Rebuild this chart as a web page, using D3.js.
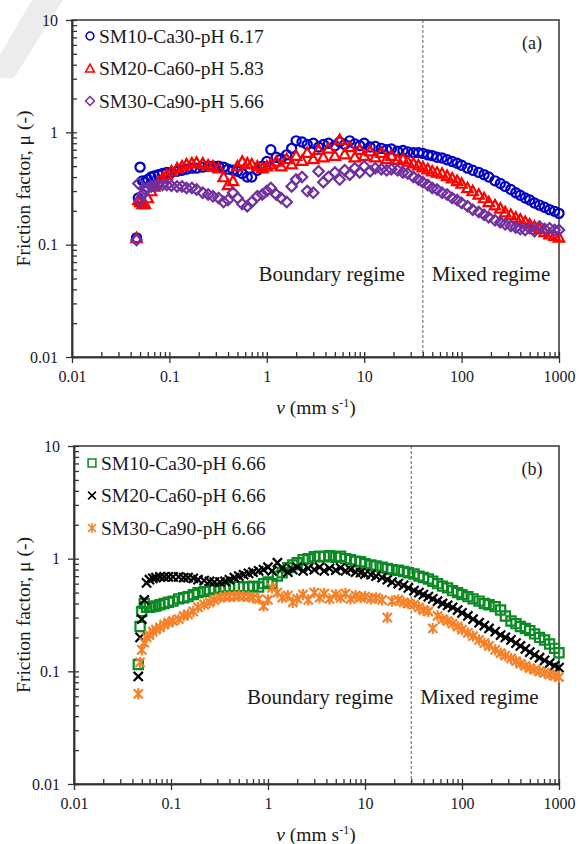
<!DOCTYPE html>
<html>
<head>
<meta charset="utf-8">
<script src="https://cdn.jsdelivr.net/npm/d3@7"></script>
<style>
  body { margin: 0; background: #fff; }
  svg { display: block; }
</style>
</head>
<body>
<div id="chart"></div>
<script>
// sliding speed (mm/s), shared by all six series
const speed = [
  0.046, 0.048, 0.05, 0.053, 0.056, 0.06, 0.065, 0.07, 0.077, 0.085,
  0.094, 0.105, 0.12, 0.135, 0.15, 0.17, 0.19, 0.22, 0.25, 0.28,
  0.32, 0.36, 0.4, 0.45, 0.5, 0.56, 0.63, 0.7, 0.8, 0.9,
  1.0, 1.1, 1.25, 1.4, 1.6, 1.8, 2.0, 2.3, 2.6, 3.0,
  3.4, 3.8, 4.3, 5.0, 5.6, 6.3, 7.1, 8.0, 9.0, 10,
  11.5, 13, 15, 17, 19, 22, 25, 28, 32, 36,
  40, 45, 50, 56, 63, 71, 80, 90, 100, 115,
  130, 150, 170, 190, 220, 250, 280, 320, 360, 400,
  450, 500, 560, 630, 710, 800, 900, 1000
];

// panel (a) friction factors
const muSM10a = [
  0.115, 0.26, 0.49, 0.37, 0.36, 0.38, 0.40, 0.41, 0.42, 0.43,
  0.44, 0.44, 0.45, 0.46, 0.47, 0.48, 0.48, 0.49, 0.50, 0.50,
  0.50, 0.49, 0.47, 0.46, 0.45, 0.43, 0.40, 0.40, 0.46, 0.50,
  0.55, 0.70, 0.60, 0.58, 0.63, 0.72, 0.84, 0.82, 0.78, 0.80,
  0.74, 0.78, 0.80, 0.76, 0.82, 0.78, 0.84, 0.79, 0.76, 0.80,
  0.74, 0.75, 0.72, 0.70, 0.71, 0.68, 0.69, 0.67, 0.66, 0.66,
  0.65, 0.63, 0.62, 0.60, 0.59, 0.57, 0.55, 0.53, 0.51, 0.48,
  0.46, 0.44, 0.42, 0.40, 0.37, 0.35, 0.33, 0.31, 0.29, 0.275,
  0.26, 0.25, 0.235, 0.225, 0.215, 0.205, 0.198, 0.19
];
const muSM20a = [
  0.115, 0.25, 0.24, 0.23, 0.23, 0.26, 0.30, 0.33, 0.36, 0.39,
  0.42, 0.45, 0.48, 0.50, 0.52, 0.53, 0.54, 0.53, 0.51, 0.50,
  0.48, 0.40, 0.34, 0.37, 0.50, 0.55, 0.53, 0.52, 0.50, 0.48,
  0.50, 0.52, 0.55, 0.50, 0.58, 0.52, 0.62, 0.56, 0.66, 0.58,
  0.70, 0.60, 0.72, 0.62, 0.86, 0.64, 0.74, 0.60, 0.70, 0.62,
  0.68, 0.60, 0.66, 0.58, 0.62, 0.57, 0.58, 0.55, 0.53, 0.51,
  0.49, 0.47, 0.45, 0.44, 0.43, 0.41, 0.39, 0.37, 0.35, 0.32,
  0.30, 0.28, 0.26, 0.24, 0.225, 0.21, 0.195, 0.185, 0.175, 0.168,
  0.16, 0.152, 0.145, 0.138, 0.13, 0.124, 0.12, 0.116
];
const muSM30a = [
  0.11, 0.35, 0.25, 0.28, 0.31, 0.32, 0.33, 0.335, 0.34, 0.34,
  0.34, 0.335, 0.33, 0.33, 0.32, 0.32, 0.31, 0.29, 0.28, 0.27,
  0.26, 0.24, 0.25, 0.29, 0.26, 0.23, 0.22, 0.24, 0.27, 0.28,
  0.30, 0.32, 0.28, 0.26, 0.24, 0.33, 0.38, 0.40, 0.30, 0.29,
  0.45, 0.36, 0.40, 0.44, 0.38, 0.46, 0.42, 0.48, 0.44, 0.50,
  0.45, 0.48, 0.47, 0.46, 0.47, 0.46, 0.44, 0.43, 0.40, 0.38,
  0.36, 0.34, 0.32, 0.31, 0.29, 0.28, 0.26, 0.25, 0.235, 0.22,
  0.205, 0.195, 0.185, 0.175, 0.165, 0.158, 0.152, 0.147, 0.142, 0.138,
  0.135, 0.14, 0.132, 0.145, 0.138, 0.14, 0.135, 0.135
];

// panel (b) friction factors
const muSM10b = [
  0.115, 0.25, 0.34, 0.40, 0.37, 0.37, 0.375, 0.38, 0.39, 0.40,
  0.41, 0.42, 0.44, 0.45, 0.46, 0.48, 0.50, 0.51, 0.53, 0.54,
  0.55, 0.56, 0.56, 0.565, 0.565, 0.56, 0.56, 0.57, 0.56, 0.60,
  0.62, 0.60, 0.70, 0.75, 0.83, 0.88, 0.92, 0.98, 1.0, 1.04,
  1.05, 1.04, 1.06, 1.03, 1.05, 1.0, 0.98, 0.95, 0.94, 0.90,
  0.88, 0.86, 0.84, 0.82, 0.80, 0.79, 0.77, 0.75, 0.73, 0.70,
  0.68, 0.66, 0.63, 0.60, 0.57, 0.55, 0.52, 0.50, 0.48, 0.46,
  0.44, 0.42, 0.40, 0.39, 0.375, 0.35, 0.31, 0.28, 0.265, 0.25,
  0.24, 0.23, 0.215, 0.20, 0.19, 0.175, 0.16, 0.146
];
const muSM20b = [
  0.09, 0.20, 0.29, 0.43, 0.61, 0.65, 0.67, 0.68, 0.69, 0.69,
  0.69, 0.69, 0.69, 0.68, 0.68, 0.67, 0.65, 0.64, 0.63, 0.62,
  0.62, 0.63, 0.65, 0.68, 0.70, 0.72, 0.74, 0.76, 0.78, 0.80,
  0.84, 0.78, 0.92, 0.82, 0.76, 0.80, 0.84, 0.78, 0.82, 0.80,
  0.84, 0.78, 0.82, 0.79, 0.83, 0.78, 0.80, 0.76, 0.75, 0.73,
  0.72, 0.70, 0.68, 0.65, 0.62, 0.60, 0.58, 0.55, 0.52, 0.50,
  0.48, 0.46, 0.44, 0.42, 0.40, 0.385, 0.37, 0.35, 0.33, 0.31,
  0.29, 0.27, 0.255, 0.24, 0.225, 0.21, 0.20, 0.19, 0.178, 0.168,
  0.158, 0.148, 0.14, 0.132, 0.125, 0.118, 0.112, 0.108
];
const muSM30b = [
  0.063, 0.12, 0.155, 0.18, 0.20, 0.21, 0.225, 0.235, 0.245, 0.26,
  0.27, 0.28, 0.29, 0.31, 0.32, 0.34, 0.37, 0.39, 0.41, 0.43,
  0.45, 0.46, 0.46, 0.46, 0.47, 0.46, 0.46, 0.45, 0.44, 0.38,
  0.43, 0.55, 0.50, 0.45, 0.47, 0.41, 0.44, 0.48, 0.43, 0.50,
  0.45, 0.49, 0.44, 0.48, 0.45, 0.49, 0.44, 0.47, 0.45, 0.46,
  0.44, 0.45, 0.43, 0.30, 0.42, 0.43, 0.41, 0.40, 0.39, 0.37,
  0.35, 0.34, 0.24, 0.31, 0.29, 0.28, 0.265, 0.25, 0.235, 0.22,
  0.205, 0.19, 0.178, 0.168, 0.155, 0.145, 0.138, 0.13, 0.123, 0.117,
  0.112, 0.107, 0.103, 0.10, 0.097, 0.094, 0.091, 0.089
];

const namesA = ["SM10-Ca30-pH 6.17", "SM20-Ca60-pH 5.83", "SM30-Ca90-pH 5.66"];
const namesB = ["SM10-Ca30-pH 6.66", "SM20-Ca60-pH 6.66", "SM30-Ca90-pH 6.66"];
const xTicks = [0.01, 0.1, 1, 10, 100, 1000];
const yTicks = [0.01, 0.1, 1, 10];
const regimeNames = ["Boundary regime", "Mixed regime"];
const transitionA = 40;
const transitionB = 30;

const FONT = "Liberation Serif, Times New Roman, serif";

// marker paths, centred on 0,0
const shapes = {
  circle: "M4.6,0A4.6,4.6 0 1,1 -4.6,0A4.6,4.6 0 1,1 4.6,0Z",
  triangle: "M0,-5.2L5.2,4.2L-5.2,4.2Z",
  diamond: "M0,-5.2L5.2,0L0,5.2L-5.2,0Z",
  square: "M-4.6,-4.6h9.2v9.2h-9.2Z",
  cross: "M-4.6,-4.6L4.6,4.6M-4.6,4.6L4.6,-4.6",
  star: "M-4.6,-4.6L4.6,4.6M-4.6,4.6L4.6,-4.6M0,-5.6L0,5.6"
};

const svg = d3.select("#chart").append("svg")
  .attr("width", 579)
  .attr("height", 844)
  .attr("font-family", FONT);

// faint grey stripe in the corner of the scan
svg.append("path")
  .attr("d", "M32,0L63,0L14,78L0,78L0,55Z")
  .attr("fill", "#ececec");

function minorValues(lo, hi) {
  var out = [];
  for (var e = Math.log10(lo); e < Math.log10(hi); e++) {
    for (var k = 1; k <= 9; k++) out.push(k * Math.pow(10, e));
  }
  out.push(hi);
  return out;
}

function fmt(d) {
  return d >= 1 ? String(d) : String(+d.toPrecision(1));
}

function drawPanel(p) {
  var x = d3.scaleLog().domain([0.01, 1000]).range([p.left, p.right]);
  var y = d3.scaleLog().domain([0.01, 10]).range([p.bottom, p.top]);
  var g = svg.append("g");

  // dashed regime boundary
  g.append("line")
    .attr("x1", x(p.transition)).attr("x2", x(p.transition))
    .attr("y1", p.top).attr("y2", p.bottom)
    .attr("stroke", "#7a7a7a")
    .attr("stroke-width", 1.2)
    .attr("stroke-dasharray", "3,2");

  // frame
  g.append("rect")
    .attr("x", p.left).attr("y", p.top)
    .attr("width", p.right - p.left).attr("height", p.bottom - p.top)
    .attr("fill", "none")
    .attr("stroke", "#333")
    .attr("stroke-width", 1.5);

  // axes: labelled majors outside, all ticks inside
  g.append("g")
    .attr("transform", "translate(0," + p.bottom + ")")
    .call(d3.axisBottom(x).tickValues(xTicks).tickSize(6).tickSizeOuter(0)
      .tickPadding(8).tickFormat(fmt));
  g.append("g")
    .attr("transform", "translate(0," + p.bottom + ")")
    .call(d3.axisBottom(x).tickValues(minorValues(0.01, 1000)).tickSize(-5)
      .tickSizeOuter(0).tickFormat(""));

  g.append("g")
    .attr("transform", "translate(" + p.left + ",0)")
    .call(d3.axisLeft(y).tickValues(yTicks).tickSize(6).tickSizeOuter(0)
      .tickPadding(8).tickFormat(fmt));
  g.append("g")
    .attr("transform", "translate(" + p.left + ",0)")
    .call(d3.axisLeft(y).tickValues(minorValues(0.01, 10)).tickSize(-5)
      .tickSizeOuter(0).tickFormat(""));

  g.selectAll(".domain").attr("stroke", "#333").attr("stroke-width", 1.5);
  g.selectAll(".tick line").attr("stroke", "#333").attr("stroke-width", 1.3);
  g.selectAll("g").attr("font-family", FONT).attr("font-size", 16);
  g.selectAll(".tick text").attr("fill", "#1a1a1a");

  // series
  p.series.forEach(function (s) {
    var pts = speed.map(function (v, i) { return {v: v, mu: s.values[i]}; });
    g.append("g").selectAll("path")
      .data(pts)
      .enter().append("path")
      .attr("transform", function (d) { return "translate(" + x(d.v) + "," + y(d.mu) + ")"; })
      .attr("d", shapes[s.shape])
      .attr("fill", "none")
      .attr("stroke", s.color)
      .attr("stroke-width", 2.2);
  });

  // legend
  p.series.forEach(function (s, i) {
    var ly = p.legendTop + i * 32.5;
    g.append("path")
      .attr("transform", "translate(" + (p.left + 18) + "," + ly + ") scale(0.85)")
      .attr("d", shapes[s.shape])
      .attr("fill", "none")
      .attr("stroke", s.color)
      .attr("stroke-width", 1.8);
    g.append("text")
      .attr("x", p.left + 27)
      .attr("y", ly + 6.5)
      .attr("font-size", 19.5)
      .attr("fill", "#1a1a1a")
      .text(s.name);
  });

  // panel tag
  g.append("text")
    .attr("x", p.right - 27).attr("y", p.top + 29)
    .attr("text-anchor", "middle")
    .attr("font-size", 18)
    .attr("fill", "#1a1a1a")
    .text(p.tag);

  // regime labels
  g.append("text")
    .attr("x", x(p.transition) - 18).attr("y", p.regimeY)
    .attr("text-anchor", "end")
    .attr("font-size", 21)
    .attr("fill", "#1a1a1a")
    .text(regimeNames[0]);
  g.append("text")
    .attr("x", x(p.transition) + 9).attr("y", p.regimeY)
    .attr("font-size", 21)
    .attr("fill", "#1a1a1a")
    .text(regimeNames[1]);

  // axis titles
  g.append("text")
    .attr("transform", "translate(30," + ((p.top + p.bottom) / 2) + ") rotate(-90)")
    .attr("text-anchor", "middle")
    .attr("font-size", 19.5)
    .attr("fill", "#1a1a1a")
    .text("Friction factor, \u03bc (-)");

  var xt = g.append("text")
    .attr("x", 316).attr("y", p.bottom + 57)
    .attr("text-anchor", "middle")
    .attr("font-size", 19.5)
    .attr("fill", "#1a1a1a");
  xt.append("tspan").attr("font-style", "italic").text("\u03bd");
  xt.append("tspan").text(" (mm s");
  xt.append("tspan").attr("dy", -7).attr("font-size", 12).text("-1");
  xt.append("tspan").attr("dy", 7).text(")");
}

drawPanel({
  left: 72, right: 559, top: 20, bottom: 357,
  transition: transitionA, tag: "(a)", legendTop: 36, regimeY: 281,
  series: [
    {name: namesA[0], values: muSM10a, shape: "circle", color: "#0000c8"},
    {name: namesA[1], values: muSM20a, shape: "triangle", color: "#ff0000"},
    {name: namesA[2], values: muSM30a, shape: "diamond", color: "#7030a0"}
  ]
});

drawPanel({
  left: 74, right: 559, top: 446, bottom: 784,
  transition: transitionB, tag: "(b)", legendTop: 463, regimeY: 704,
  series: [
    {name: namesB[0], values: muSM10b, shape: "square", color: "#0b8a24"},
    {name: namesB[1], values: muSM20b, shape: "cross", color: "#000000"},
    {name: namesB[2], values: muSM30b, shape: "star", color: "#f5822a"}
  ]
});
</script>
</body>
</html>
